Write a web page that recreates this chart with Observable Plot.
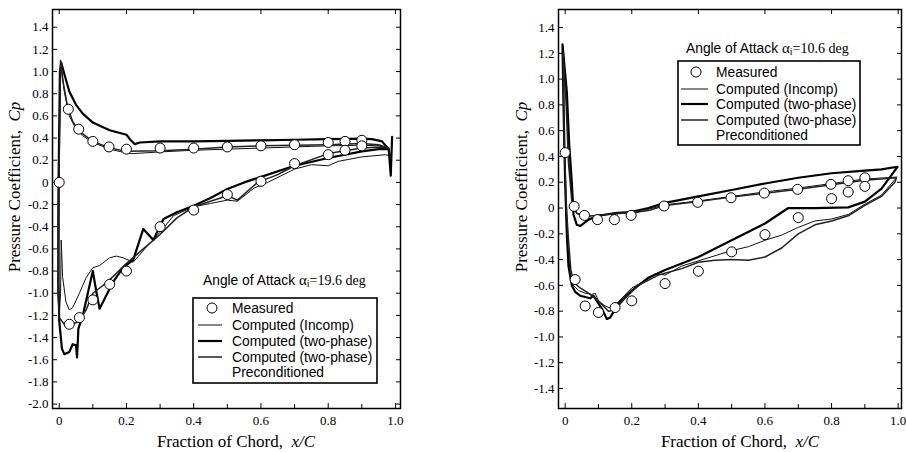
<!DOCTYPE html>
<html><head><meta charset="utf-8">
<script src="https://cdn.jsdelivr.net/npm/d3@7"></script>
<script src="https://cdn.jsdelivr.net/npm/@observablehq/plot@0.6"></script>
<style>
body{margin:0;background:#fff}
#row{display:flex;width:906px;height:452px}
svg{display:block}
</style>
</head><body><div id="row"></div>
<script>
// ---------- DATA (x/C, Cp) ----------
const legendLabels = ["Measured", "Computed (Incomp)", "Computed (two-phase)", "Computed (two-phase)", "Preconditioned"];
const leftTitle = "19.6";
const rightTitle = "10.6";
const xMajorTicks = [0, 0.2, 0.4, 0.6, 0.8, 1.0];
const xMinorTicks = [0.1, 0.3, 0.5, 0.7, 0.9];
const leftYTicks = [-2.0, -1.8, -1.6, -1.4, -1.2, -1.0, -0.8, -0.6, -0.4, -0.2, 0, 0.2, 0.4, 0.6, 0.8, 1.0, 1.2, 1.4];
const rightYTicks = [-1.4, -1.2, -1.0, -0.8, -0.6, -0.4, -0.2, 0, 0.2, 0.4, 0.6, 0.8, 1.0, 1.2, 1.4];

// Left panel: angle of attack 19.6 deg
const leftMeasured = [[0,0],[0.027,0.66],[0.058,0.48],[0.1,0.37],[0.148,0.32],[0.2,0.30],[0.3,0.31],[0.4,0.31],[0.5,0.32],[0.6,0.33],[0.7,0.34],[0.8,0.36],[0.85,0.37],[0.9,0.38],
  [0.03,-1.28],[0.06,-1.22],[0.1,-1.06],[0.15,-0.92],[0.2,-0.80],[0.3,-0.40],[0.4,-0.25],[0.5,-0.11],[0.6,0.01],[0.7,0.17],[0.8,0.25],[0.85,0.29],[0.9,0.33]];
const leftIncomp = [[0.98,0.3],[0.95,0.33],[0.9,0.335],[0.8,0.33],[0.7,0.32],[0.6,0.31],[0.5,0.30],[0.4,0.29],[0.3,0.275],[0.22,0.26],[0.2,0.265],[0.15,0.30],[0.1,0.36],[0.07,0.42],[0.05,0.48],[0.03,0.6],[0.015,0.82],[0.005,1.05],[0.0,0.3],[-0.004,-0.3],[-0.004,-1.0],[0.0,-1.2],[0.004,-1.0],[0.006,-0.52],[0.01,-0.85],[0.02,-1.08],[0.03,-1.15],[0.04,-1.13],[0.06,-1.0],[0.08,-0.86],[0.1,-0.77],[0.12,-0.75],[0.15,-0.68],[0.17,-0.665],[0.19,-0.68],[0.22,-0.72],[0.26,-0.58],[0.3,-0.45],[0.34,-0.3],[0.4,-0.22],[0.45,-0.19],[0.5,-0.16],[0.53,-0.17],[0.58,-0.05],[0.62,0.0],[0.7,0.12],[0.75,0.16],[0.8,0.15],[0.83,0.19],[0.9,0.23],[0.97,0.25],[0.985,0.24]];
const leftTwoPhase = [[0.99,0.41],[0.986,0.06],[0.98,0.3],[0.96,0.37],[0.93,0.39],[0.9,0.395],[0.8,0.39],[0.7,0.385],[0.6,0.38],[0.5,0.375],[0.4,0.37],[0.3,0.37],[0.24,0.36],[0.225,0.345],[0.21,0.39],[0.2,0.43],[0.15,0.47],[0.1,0.54],[0.07,0.62],[0.05,0.7],[0.03,0.82],[0.015,0.98],[0.006,1.08],[0.002,1.0],[0.0,0.5],[-0.002,0.0],[-0.002,-0.9],[0.0,-1.25],[0.008,-1.5],[0.015,-1.55],[0.03,-1.53],[0.04,-1.46],[0.05,-1.47],[0.053,-1.58],[0.057,-1.32],[0.07,-1.2],[0.085,-1.0],[0.1,-0.8],[0.11,-0.98],[0.12,-1.14],[0.135,-1.05],[0.16,-0.9],[0.19,-0.77],[0.22,-0.7],[0.25,-0.42],[0.28,-0.52],[0.31,-0.33],[0.35,-0.27],[0.4,-0.21],[0.45,-0.14],[0.5,-0.06],[0.55,0.0],[0.6,0.05],[0.7,0.15],[0.8,0.22],[0.9,0.28],[0.95,0.3],[0.98,0.3]];
const leftPrecond = [[0.98,0.31],[0.95,0.34],[0.9,0.35],[0.8,0.34],[0.7,0.335],[0.6,0.33],[0.5,0.32],[0.4,0.30],[0.3,0.285],[0.2,0.28],[0.15,0.31],[0.1,0.37],[0.06,0.46],[0.04,0.55],[0.025,0.68],[0.012,0.9],[0.004,1.1],[0.0,0.2],[-0.003,-1.0],[0.0,-1.22],[0.02,-1.3],[0.04,-1.28],[0.06,-1.25],[0.08,-1.15],[0.1,-1.0],[0.13,-0.93],[0.16,-0.85],[0.2,-0.73],[0.25,-0.6],[0.3,-0.47],[0.35,-0.32],[0.4,-0.22],[0.5,-0.12],[0.53,-0.16],[0.59,0.0],[0.65,0.07],[0.7,0.15],[0.8,0.26],[0.9,0.31],[0.96,0.32],[0.98,0.31]];

// Right panel: angle of attack 10.6 deg
const rightMeasured = [[0,0.43],[0.027,0.013],[0.058,-0.057],[0.097,-0.09],[0.148,-0.09],[0.198,-0.057],[0.297,0.016],[0.398,0.044],[0.498,0.08],[0.598,0.116],[0.698,0.145],[0.798,0.184],[0.85,0.212],[0.9,0.235],
  [0.9,0.168],[0.85,0.124],[0.8,0.073],[0.7,-0.074],[0.6,-0.206],[0.5,-0.34],[0.4,-0.49],[0.3,-0.586],[0.2,-0.72],[0.15,-0.772],[0.1,-0.81],[0.06,-0.76],[0.03,-0.555]];
const rightIncomp = [[0.995,0.24],[0.9,0.225],[0.8,0.19],[0.7,0.155],[0.6,0.125],[0.5,0.09],[0.4,0.055],[0.3,0.025],[0.25,-0.01],[0.21,-0.04],[0.2,-0.03],[0.18,-0.04],[0.12,-0.05],[0.08,-0.06],[0.05,-0.07],[0.03,-0.03],[0.02,0.1],[0.01,0.4],[0.003,0.9],[-0.006,1.25],[-0.004,0.6],[0.002,0.0],[0.008,-0.3],[0.015,-0.5],[0.025,-0.6],[0.04,-0.64],[0.06,-0.66],[0.08,-0.67],[0.09,-0.66],[0.1,-0.72],[0.12,-0.76],[0.14,-0.78],[0.17,-0.7],[0.2,-0.62],[0.25,-0.55],[0.27,-0.51],[0.3,-0.52],[0.35,-0.45],[0.4,-0.41],[0.45,-0.37],[0.5,-0.33],[0.55,-0.3],[0.6,-0.25],[0.65,-0.21],[0.7,-0.15],[0.75,-0.1],[0.8,-0.085],[0.85,-0.05],[0.9,0.03],[0.95,0.1],[0.99,0.22],[0.995,0.24]];
const rightTwoPhase = [[0.998,0.32],[0.95,0.30],[0.9,0.29],[0.8,0.27],[0.7,0.235],[0.6,0.19],[0.5,0.14],[0.4,0.09],[0.3,0.04],[0.25,0.0],[0.2,-0.03],[0.15,-0.04],[0.1,-0.06],[0.07,-0.09],[0.045,-0.14],[0.035,-0.13],[0.025,-0.05],[0.02,0.2],[0.012,0.5],[0.005,0.9],[-0.008,1.27],[-0.005,0.8],[0.0,0.2],[0.005,-0.2],[0.01,-0.45],[0.02,-0.6],[0.03,-0.65],[0.045,-0.68],[0.06,-0.69],[0.075,-0.7],[0.085,-0.68],[0.095,-0.72],[0.11,-0.78],[0.125,-0.86],[0.135,-0.85],[0.16,-0.74],[0.2,-0.64],[0.25,-0.54],[0.3,-0.48],[0.4,-0.38],[0.5,-0.25],[0.6,-0.12],[0.67,0.0],[0.75,0.0],[0.85,0.005],[0.9,0.05],[0.95,0.15],[0.998,0.32]];
const rightPrecond = [[0.995,0.235],[0.9,0.215],[0.8,0.18],[0.7,0.145],[0.6,0.115],[0.5,0.085],[0.4,0.05],[0.3,0.02],[0.25,-0.02],[0.2,-0.035],[0.15,-0.045],[0.1,-0.055],[0.06,-0.065],[0.035,-0.04],[0.02,0.05],[0.01,0.35],[0.003,0.8],[-0.006,1.2],[-0.003,0.5],[0.004,0.0],[0.01,-0.25],[0.017,-0.48],[0.027,-0.58],[0.045,-0.62],[0.07,-0.66],[0.1,-0.72],[0.13,-0.8],[0.15,-0.79],[0.18,-0.7],[0.22,-0.6],[0.28,-0.52],[0.35,-0.47],[0.4,-0.42],[0.45,-0.405],[0.5,-0.4],[0.55,-0.405],[0.6,-0.38],[0.65,-0.31],[0.7,-0.2],[0.75,-0.13],[0.8,-0.1],[0.85,-0.06],[0.9,0.02],[0.95,0.09],[0.99,0.2],[0.995,0.235]];

// ---------- DRAWING ----------
const SERIF = "'Liberation Serif', 'Times New Roman', serif";
const SANS = "'Liberation Sans', Arial, sans-serif";
const fmt = d => Math.abs(d) < 1e-9 ? "0" : d.toFixed(1);
const lineStyles = [
  {w: 1.0, c: "#111"},   // Incomp
  {w: 2.2, c: "#000"},   // two-phase
  {w: 1.5, c: "#222"}    // preconditioned
];

function panel(opts) {
  const {marginLeft, marginRight, xDomain, yDomain, yTicks, lines, measured} = opts;
  return Plot.plot({
    width: 453, height: 452,
    marginTop: 9, marginBottom: 44, marginLeft, marginRight,
    x: {domain: xDomain},
    y: {domain: yDomain},
    style: {fontFamily: SERIF, fontSize: "13px", color: "black", background: "white", overflow: "visible"},
    marks: [
      Plot.axisY(yTicks, {anchor: "left", tickSize: -5, tickPadding: 9, tickFormat: fmt, label: null, fontSize: 13}),
      Plot.axisY(yTicks, {anchor: "right", tickSize: -5, fill: "none", label: null}),
      Plot.axisX(xMajorTicks, {anchor: "bottom", tickSize: -5, tickPadding: 12, tickFormat: fmt, label: null, fontSize: 13}),
      Plot.axisX(xMinorTicks, {anchor: "bottom", tickSize: -4, fill: "none", label: null}),
      Plot.axisX(xMajorTicks, {anchor: "top", tickSize: -4, fill: "none", label: null}),
      ...lines.map((s, i) => Plot.line(s, {x: d => d[0], y: d => d[1], stroke: lineStyles[i].c, strokeWidth: lineStyles[i].w, strokeLinejoin: "round"})),
      Plot.dot(measured, {x: d => d[0], y: d => d[1], r: 5, fill: "white", stroke: "black", strokeWidth: 1}),
      Plot.frame({stroke: "black", strokeWidth: 1.5})
    ]
  });
}

function decorate(svg, o) {
  const g = d3.select(svg);
  // y label
  const yl = g.append("text")
    .attr("transform", `translate(${o.ylx},${o.yly}) rotate(-90)`)
    .attr("text-anchor", "middle").attr("dominant-baseline", "central")
    .style("font-family", SERIF).style("font-size", "17px").style("white-space", "pre").attr("fill", "black");
  yl.append("tspan").text("Pressure Coefficient,  ");
  yl.append("tspan").style("font-style", "italic").text("Cp");
  // x label
  const xl = g.append("text")
    .attr("x", o.xlx).attr("y", o.xly)
    .attr("text-anchor", "middle").attr("dominant-baseline", "central")
    .style("font-family", SERIF).style("font-size", "17px").style("white-space", "pre").attr("fill", "black");
  xl.append("tspan").text("Fraction of Chord,  ");
  xl.append("tspan").style("font-style", "italic").text("x/C");
  // legend title
  const t = g.append("text").attr("x", o.tx).attr("y", o.ty).attr("dominant-baseline", "central")
    .attr("text-anchor", "start")
    .style("font-size", "13.8px").style("white-space", "pre").attr("fill", "black");
  t.append("tspan").style("font-family", SANS).text("Angle of Attack ");
  t.append("tspan").style("font-family", SERIF).style("font-size", "15px").text("α");
  t.append("tspan").style("font-family", SERIF).style("font-size", "10px").attr("dy", "3").text("i");
  t.append("tspan").style("font-family", SERIF).style("font-size", "14px").attr("dy", "-3").text("=" + o.angle + " deg");
  // legend box
  g.append("rect").attr("x", o.bx).attr("y", o.by).attr("width", o.bw).attr("height", o.bh)
    .attr("fill", "white").attr("stroke", "black").attr("stroke-width", 1.6);
  o.rows.forEach((ry, i) => {
    if (i === 0) {
      g.append("circle").attr("cx", o.cx).attr("cy", ry).attr("r", 5).attr("fill", "white").attr("stroke", "black");
    } else if (i <= 3) {
      const st = lineStyles[i - 1];
      g.append("line").attr("x1", o.lx1).attr("x2", o.lx2).attr("y1", ry).attr("y2", ry)
        .attr("stroke", st.c).attr("stroke-width", st.w);
    }
    g.append("text").attr("x", o.txtx).attr("y", ry).attr("dominant-baseline", "central")
      .attr("text-anchor", "start")
      .style("font-family", SANS).style("font-size", "13.8px").attr("fill", "black").text(legendLabels[i]);
  });
}

const row = document.getElementById("row");
const left = panel({
  marginLeft: 52, marginRight: 53,
  xDomain: [-0.02, 1.015], yDomain: [-2.04, 1.56], yTicks: leftYTicks,
  lines: [leftIncomp, leftTwoPhase, leftPrecond], measured: leftMeasured
});
decorate(left, {ylx: 14, yly: 187, xlx: 236, xly: 441, tx: 203, ty: 280, angle: leftTitle,
  bx: 193, by: 298, bw: 184, bh: 85, cx: 212, lx1: 198, lx2: 222, txtx: 232, rows: [308, 325, 341, 357, 372]});
const right = panel({
  marginLeft: 105, marginRight: 5,
  xDomain: [-0.02, 1.01], yDomain: [-1.555, 1.54], yTicks: rightYTicks,
  lines: [rightIncomp, rightTwoPhase, rightPrecond], measured: rightMeasured
});
decorate(right, {ylx: 68, yly: 187, xlx: 287, xly: 441, tx: 233, ty: 48, angle: rightTitle,
  bx: 225, by: 61, bw: 182, bh: 84, cx: 243, lx1: 228, lx2: 255, txtx: 263, rows: [72, 89, 104, 120, 135]});
row.appendChild(left);
row.appendChild(right);
</script></body></html>
